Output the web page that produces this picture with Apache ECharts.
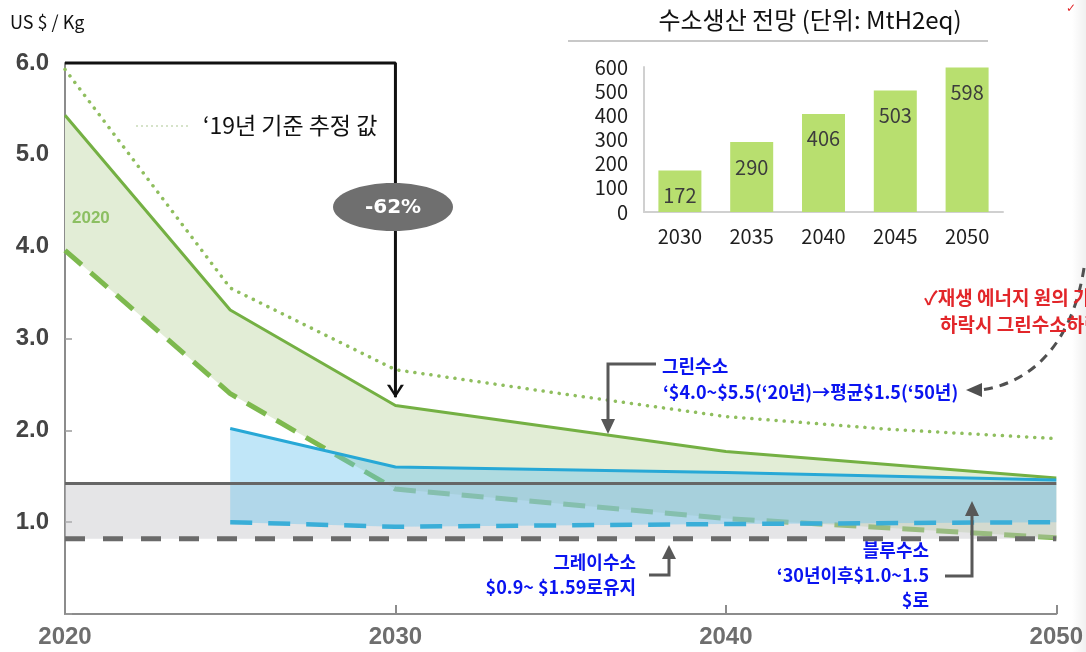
<!DOCTYPE html>
<html><head><meta charset="utf-8">
<script src="https://cdn.jsdelivr.net/npm/echarts@6/dist/echarts.min.js"></script>
<style>html,body{margin:0;padding:0;background:#fff}#c{width:1086px;height:652px}</style>
</head><body><div id="c"></div>
<script>
// ---------------- data ----------------
const xTicks = [2020, 2030, 2040, 2050];
const estYears = [2020, 2025, 2030, 2035, 2040, 2045, 2050];
const est2019 = [5.93, 3.55, 2.66, 2.40, 2.15, 2.01, 1.91];
const greenYears = [2020, 2025, 2030, 2040, 2050];
const greenHigh = [5.43, 3.31, 2.27, 1.77, 1.48];
const greenLow = [3.96, 2.40, 1.36, 1.04, 0.83];
const blueYears = [2025, 2030, 2040, 2050];
const blueHigh = [2.02, 1.60, 1.54, 1.46];
const blueLow = [1.00, 0.95, 0.98, 1.00];
const greyYears = [2020, 2050];
const greyHigh = [1.42, 1.42];
const greyLow = [0.82, 0.82];
const reductionPath = [[2020, 6.0], [2030, 6.0], [2030, 2.36]];
const reductionLabel = '-62%';
const insetYears = ['2030', '2035', '2040', '2045', '2050'];
const insetValues = [172, 290, 406, 503, 598];
const insetTitle = '수소생산 전망 (단위: MtH2eq)';
const unitLabel = 'US $ / Kg';
const legendLabel = '\u201819년 기준 추정 값';
const greenNote = ['그린수소', '\u2018$4.0~$5.5(\u201820년)\u2192평균$1.5(\u201850년)'];
const greyNote = ['그레이수소', '$0.9~ $1.59로유지'];
const blueNote = ['블루수소', '\u201830년이후$1.0~1.5', '$로'];
const redNote = ['\u2713재생 에너지 원의 가격', '하락시 그린수소하락'];

// ---------------- helpers ----------------
const KR = '"Noto Sans CJK KR", "Noto Sans", sans-serif';
const pairs = (xs, ys) => xs.map((x, i) => [x, ys[i]]);
function band(xs, hi, lo, fill, z) {
  return {
    type: 'custom', xAxisIndex: 0, yAxisIndex: 0, z: z, silent: true, clip: false,
    data: [[xs[0], lo[0]]],
    renderItem: function (params, api) {
      const pts = [];
      for (let i = 0; i < xs.length; i++) pts.push(api.coord([xs[i], hi[i]]));
      for (let i = xs.length - 1; i >= 0; i--) pts.push(api.coord([xs[i], lo[i]]));
      return { type: 'polygon', shape: { points: pts }, style: { fill: fill } };
    }
  };
}
function line(xs, ys, color, width, type, z, cap) {
  return {
    type: 'line', xAxisIndex: 0, yAxisIndex: 0, data: pairs(xs, ys), symbol: 'none', z: z,
    silent: true, clip: false, animation: false,
    lineStyle: { color: color, width: width, type: type || 'solid', cap: cap || 'butt' }
  };
}
function txt(text, x, y, font, fill, align, extra) {
  return Object.assign({ type: 'text', z: 100, silent: true,
    style: { text: text, x: x, y: y, font: font, fill: fill, textAlign: align || 'left', textVerticalAlign: 'middle' } }, extra || {});
}
function poly(points, stroke, width, z) {
  return { type: 'polyline', z: z || 90, silent: true, shape: { points: points }, style: { stroke: stroke, lineWidth: width, fill: null } };
}
function tri(points, fill, z) {
  return { type: 'polygon', z: z || 90, silent: true, shape: { points: points }, style: { fill: fill } };
}

const chart = echarts.init(document.getElementById('c'), null, { renderer: 'canvas' });
const CONN = '#585858';
const BLUE = '#0a14f0';
const NOTE = 'bold 18px ' + KR;
const option = {
  animation: false,
  backgroundColor: '#fff',
  grid: [
    { left: 65, right: 28, top: 63, bottom: 38 },
    { left: 644, top: 67, width: 359, height: 145 }
  ],
  xAxis: [
    { gridIndex: 0, type: 'value', min: 2020, max: 2050, interval: 10,
      axisLine: { lineStyle: { color: '#8c8c8c', width: 2 } },
      axisTick: { inside: true, length: 9, lineStyle: { color: '#8c8c8c', width: 2 } },
      axisLabel: { color: '#6e6e6e', fontSize: 24, fontWeight: 'bold', fontFamily: '"Liberation Sans", Arial, sans-serif', margin: 11,
        formatter: v => String(v) },
      splitLine: { show: false } },
    { gridIndex: 1, type: 'category', data: insetYears, boundaryGap: true,
      axisLine: { lineStyle: { color: '#d0d0d0', width: 2 } }, axisTick: { show: false },
      axisLabel: { color: '#1e1e1e', fontSize: 20, fontFamily: KR, margin: 14 } }
  ],
  yAxis: [
    { gridIndex: 0, type: 'value', min: 0, max: 6, interval: 1,
      axisLine: { show: true, lineStyle: { color: '#8c8c8c', width: 2 } },
      axisTick: { show: true, inside: true, length: 7, lineStyle: { color: '#9a9a9a', width: 1.5 } },
      axisLabel: { color: '#444', fontSize: 24, fontWeight: 'bold', fontFamily: '"Liberation Sans", Arial, sans-serif', margin: 16,
        formatter: v => v === 0 ? '' : v.toFixed(1) },
      splitLine: { show: false } },
    { gridIndex: 1, type: 'value', min: 0, max: 600, interval: 100,
      axisLine: { show: true, lineStyle: { color: '#d0d0d0', width: 2 } }, axisTick: { show: false },
      axisLabel: { color: '#1e1e1e', fontSize: 20, fontFamily: KR, margin: 16 },
      splitLine: { show: false } }
  ],
  series: [
    band(greenYears, greenHigh, greenLow, '#e2edd6', 1),
    line(estYears, est2019, '#8fbe5e', 3.5, [0.1, 8], 2, 'round'),
    line(greenYears, greenLow, '#7db94e', 5, [22, 12], 2),
    band(greyYears, greyHigh, greyLow, 'rgba(192,192,198,0.42)', 3),
    band(blueYears, blueHigh, blueLow, 'rgba(105,195,238,0.42)', 4),
    line(greenYears, greenHigh, '#74b043', 3, 'solid', 5),
    line(blueYears, blueHigh, '#27a8d6', 3, 'solid', 5),
    line(blueYears, blueLow, '#3aaed8', 4.5, [22, 16], 5),
    line(greyYears, greyHigh, '#666', 3, 'solid', 6),
    line(greyYears, greyLow, '#6a6a6a', 5, [20, 18], 6),
    { type: 'line', xAxisIndex: 0, yAxisIndex: 0, data: reductionPath, z: 7, silent: true, clip: false,
      lineStyle: { color: '#111', width: 3 }, showSymbol: true,
      symbol: (v, p) => p.dataIndex === reductionPath.length - 1 ? 'path://M0,0 L3,0 L8,7 L13,0 L16,0 L8,10 Z' : 'none',
      symbolSize: [17, 13], symbolOffset: [0, -6], itemStyle: { color: '#111' } },
    { type: 'bar', xAxisIndex: 1, yAxisIndex: 1, data: insetValues, barWidth: 43, silent: true,
      itemStyle: { color: '#b8df6f' },
      label: { show: true, position: 'insideTop', distance: 15, color: '#3c3c3c', fontSize: 20, fontFamily: KR } }
  ],
  graphic: [
    // right page edge shading
    { type: 'rect', z: 1, silent: true, shape: { x: 1072, y: 0, width: 14, height: 652 },
      style: { fill: new echarts.graphic.LinearGradient(0, 0, 1, 0, [{ offset: 0, color: 'rgba(0,0,0,0)' }, { offset: 1, color: 'rgba(0,0,0,0.06)' }]) } },
    txt(unitLabel, 10, 22, '18px ' + KR, '#111'),
    // legend
    { type: 'line', z: 50, silent: true, shape: { x1: 136, y1: 126, x2: 190, y2: 126 },
      style: { stroke: '#d6e3c9', lineWidth: 2, lineDash: [2, 3] } },
    txt(legendLabel, 203, 125, '23px ' + KR, '#111'),
    txt('2020', 72, 218, 'bold 17px "Liberation Sans", Arial, sans-serif', '#8cbf62'),
    // -62% bubble
    { type: 'ellipse', z: 95, silent: true, shape: { cx: 393, cy: 207, rx: 60, ry: 24 }, style: { fill: '#6f6f6f' } },
    txt(reductionLabel, 393, 208, 'bold 20px "DejaVu Sans", sans-serif', '#fff', 'center'),
    // inset title + rule
    txt(insetTitle, 810, 20, '24px ' + KR, '#111', 'center'),
    { type: 'line', z: 50, silent: true, shape: { x1: 568, y1: 41, x2: 988, y2: 41 }, style: { stroke: '#c8c8c8', lineWidth: 2 } },
    // red note
    txt(redNote[0], 924, 298, 'bold 19px ' + KR, '#e2262a'),
    txt(redNote[1], 940, 325, 'bold 19px ' + KR, '#e2262a'),
    txt('\u2713', 1066, 9, 'bold 12px "DejaVu Sans", sans-serif', '#e2262a'),
    { type: 'bezierCurve', z: 90, silent: true,
      shape: { x1: 1084, y1: 268, cpx1: 1072, cpy1: 345, cpx2: 1030, cpy2: 384, x2: 980, y2: 390 },
      style: { stroke: '#505050', lineWidth: 3, lineDash: [9, 7], fill: null } },
    tri([[966, 390], [982, 383], [982, 397]], '#505050'),
    // green note
    txt(greenNote[0], 662, 366, NOTE, BLUE),
    txt(greenNote[1], 663, 392, NOTE, BLUE),
    poly([[656, 364], [608, 364], [608, 420]], CONN, 3),
    tri([[601, 419], [615, 419], [608, 434]], CONN),
    // grey note
    txt(greyNote[0], 636, 562, NOTE, BLUE, 'right'),
    txt(greyNote[1], 636, 587, NOTE, BLUE, 'right'),
    poly([[649, 575], [669, 575], [669, 558]], CONN, 3),
    tri([[662, 559], [676, 559], [669, 545]], CONN),
    // blue note
    txt(blueNote[0], 929, 550, NOTE, BLUE, 'right'),
    txt(blueNote[1], 929, 575, NOTE, BLUE, 'right'),
    txt(blueNote[2], 929, 600, NOTE, BLUE, 'right'),
    poly([[945, 576], [972, 576], [972, 515]], CONN, 3),
    tri([[965, 516], [979, 516], [972, 501]], CONN)
  ]
};
chart.setOption(option);
</script>
</body></html>
